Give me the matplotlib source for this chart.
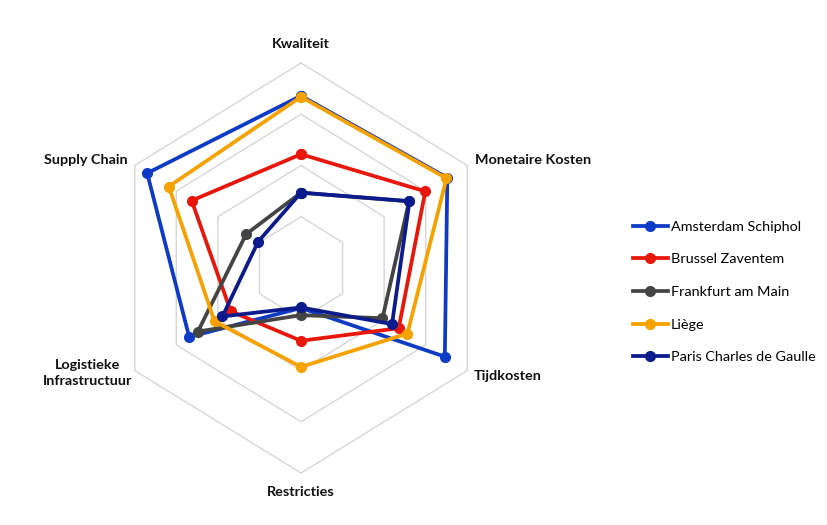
import matplotlib.pyplot as plt
import numpy as np

# assen van de radar, met de klok mee vanaf boven
categories = ['Kwaliteit', 'Monetaire Kosten', 'Tijdkosten', 'Restricties',
              'Logistieke\nInfrastructuur', 'Supply Chain']

amsterdam = [3.36, 3.52, 3.46, 0.78, 2.69, 3.70]
brussel = [2.22, 2.99, 2.35, 1.42, 1.69, 2.63]
frankfurt = [1.47, 2.60, 1.96, 0.92, 2.48, 1.32]
liege = [3.34, 3.50, 2.56, 1.93, 2.08, 3.18]
paris = [1.47, 2.61, 2.19, 0.77, 1.89, 1.03]

series = ['Amsterdam Schiphol', 'Brussel Zaventem', 'Frankfurt am Main',
          'Liège', 'Paris Charles de Gaulle']
colors = ['#0E3BC6', '#E8170C', '#444444', '#F5A200', '#0C1B8C']
rings = [1, 2, 3, 4]

plt.rcParams['font.family'] = ['Lato', 'DejaVu Sans']

fig = plt.figure(figsize=(8.27, 5.25), dpi=100)
ax = fig.add_axes([0, 0, 1, 1])
ax.set_xlim(-301 / 48, (827 - 301) / 48)
ax.set_ylim((268 - 525) / 51.25, 268 / 51.25)
ax.axis('off')

angles = np.pi / 2 - np.arange(len(categories)) * 2 * np.pi / len(categories)
closed = np.append(angles, angles[0])

#hexagonaal raster
for r in rings:
    ax.plot(r * np.cos(closed), r * np.sin(closed), color='#d6d6d6', lw=1, zorder=1)

#reeksen
for name, vals, c in zip(series, [amsterdam, brussel, frankfurt, liege, paris], colors):
    v = np.append(vals, vals[0])
    ax.plot(v * np.cos(closed), v * np.sin(closed), '-o', color=c, lw=2.7,
            ms=7, label=name, zorder=3)

#labels van de assen
offsets = [(0, 19, 'center'), (8, 5, 'left'), (6, -6, 'left'),
           (0, -19, 'center'), (-47, -2, 'center'), (-7, 5, 'right')]
rmax = rings[-1]
for cat, a, (dx, dy, ha) in zip(categories, angles, offsets):
    ax.annotate(cat, xy=(rmax * np.cos(a), rmax * np.sin(a)), xytext=(dx, dy),
                textcoords='offset pixels', ha=ha, va='center',
                fontsize=10.4, fontweight='bold', color='#111111',
                multialignment='center', linespacing=1.4)

leg = ax.legend(loc='center left', bbox_to_anchor=(633 / 827, 1 - 292 / 525),
                bbox_transform=fig.transFigure, frameon=False, fontsize=10.4,
                handlelength=2.4, handletextpad=0.2, labelspacing=1.42,
                borderpad=0, borderaxespad=0)

fig.savefig('out.png', dpi=100)
